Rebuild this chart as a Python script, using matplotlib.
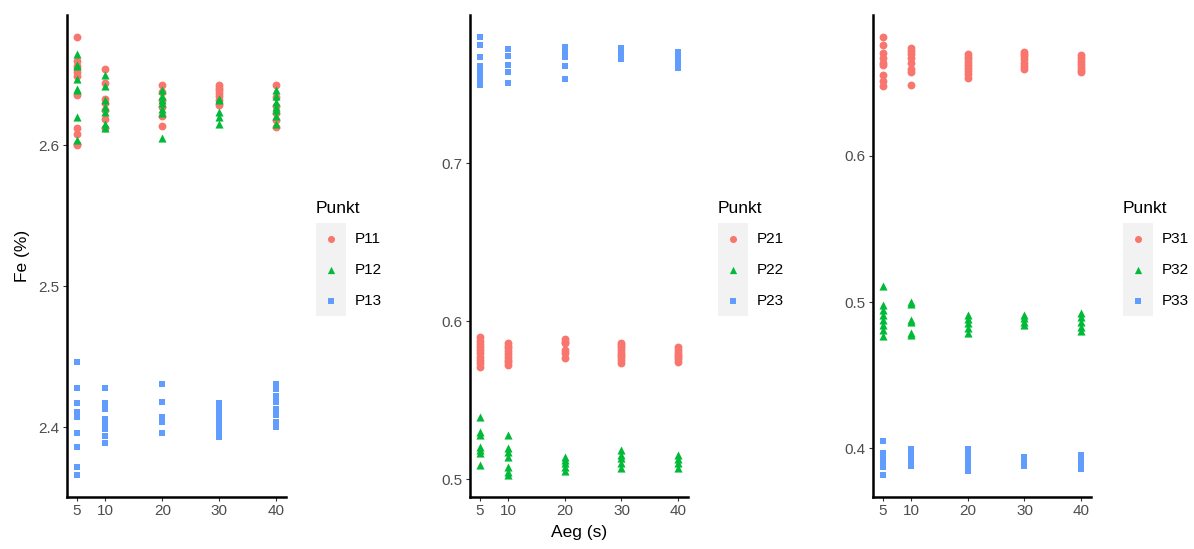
import matplotlib
matplotlib.use("Agg")
import matplotlib.pyplot as plt
from matplotlib.patches import Rectangle

plt.rcParams["font.family"] = ["Liberation Sans", "DejaVu Sans"]

# Sampling times (s)
times = [5, 10, 20, 30, 40]

# Fe (%) per measuring point, one inner list per sampling time
p11 = [[2.677, 2.660, 2.656, 2.652, 2.649, 2.636, 2.612, 2.608, 2.601, 2.600],
       [2.654, 2.644, 2.633, 2.630, 2.625, 2.619, 2.612],
       [2.643, 2.638, 2.632, 2.627, 2.621, 2.614],
       [2.643, 2.641, 2.639, 2.637, 2.635, 2.632, 2.629],
       [2.643, 2.634, 2.628, 2.623, 2.618, 2.613]]
p12 = [[2.665, 2.657, 2.656, 2.647, 2.640, 2.639, 2.620, 2.604],
       [2.650, 2.642, 2.632, 2.627, 2.624, 2.615, 2.612],
       [2.639, 2.635, 2.632, 2.630, 2.626, 2.623, 2.605],
       [2.633, 2.632, 2.624, 2.620, 2.615],
       [2.639, 2.635, 2.631, 2.627, 2.625, 2.621, 2.615]]
p13 = [[2.446, 2.428, 2.417, 2.411, 2.407, 2.396, 2.386, 2.372, 2.366],
       [2.428, 2.417, 2.413, 2.406, 2.402, 2.399, 2.394, 2.389],
       [2.431, 2.418, 2.407, 2.404, 2.396],
       [2.417, 2.413, 2.409, 2.405, 2.401, 2.397, 2.393],
       [2.431, 2.427, 2.422, 2.418, 2.413, 2.409, 2.404, 2.400]]

p21 = [[0.5897, 0.5875, 0.5855, 0.5835, 0.5816, 0.5795, 0.5775, 0.5753, 0.5732, 0.5711],
       [0.5863, 0.5845, 0.5827, 0.5809, 0.5791, 0.5772, 0.5753, 0.5738, 0.5722],
       [0.5884, 0.5870, 0.5859, 0.5816, 0.5800, 0.5764],
       [0.5863, 0.5848, 0.5834, 0.5816, 0.5799, 0.5785, 0.5770, 0.5753, 0.5736],
       [0.5834, 0.5815, 0.5799, 0.5785, 0.5774, 0.5758, 0.5742]]
p22 = [[0.5394, 0.5299, 0.5278, 0.5204, 0.5184, 0.5163, 0.5089],
       [0.5278, 0.5194, 0.5173, 0.5141, 0.5078, 0.5046, 0.5025],
       [0.5141, 0.5120, 0.5099, 0.5078, 0.5053],
       [0.5184, 0.5152, 0.5131, 0.5099, 0.5068],
       [0.5152, 0.5125, 0.5099, 0.5068]]
p23 = [[0.7799, 0.7747, 0.7669, 0.7616, 0.7580, 0.7555, 0.7530, 0.7505, 0.7494],
       [0.7720, 0.7677, 0.7620, 0.7578, 0.7508],
       [0.7736, 0.7698, 0.7669, 0.7614, 0.7530],
       [0.7726, 0.7700, 0.7675, 0.7656],
       [0.7701, 0.7680, 0.7660, 0.7640, 0.7620, 0.7600]]

p31 = [[0.6812, 0.6758, 0.6705, 0.6671, 0.6637, 0.6621, 0.6553, 0.6512, 0.6478],
       [0.6739, 0.6717, 0.6694, 0.6671, 0.6637, 0.6592, 0.6569, 0.6485],
       [0.6694, 0.6677, 0.6660, 0.6640, 0.6621, 0.6600, 0.6580, 0.6557, 0.6534],
       [0.6712, 0.6697, 0.6683, 0.6660, 0.6637, 0.6615, 0.6592],
       [0.6689, 0.6668, 0.6648, 0.6628, 0.6608, 0.6588, 0.6569]]
p32 = [[0.5109, 0.4980, 0.4945, 0.4911, 0.4877, 0.4843, 0.4809, 0.4768],
       [0.5002, 0.4985, 0.4877, 0.4865, 0.4786, 0.4772],
       [0.4911, 0.4882, 0.4854, 0.4820, 0.4786],
       [0.4911, 0.4889, 0.4866, 0.4843],
       [0.4923, 0.4895, 0.4866, 0.4831, 0.4804]]
p33 = [[0.4052, 0.3966, 0.3943, 0.3920, 0.3897, 0.3874, 0.3817],
       [0.3993, 0.3975, 0.3954, 0.3937, 0.3920, 0.3900, 0.3881],
       [0.3993, 0.3975, 0.3954, 0.3937, 0.3920, 0.3900, 0.3881, 0.3863, 0.3845],
       [0.3943, 0.3925, 0.3908, 0.3893, 0.3879],
       [0.3956, 0.3938, 0.3920, 0.3903, 0.3886, 0.3870, 0.3860]]

labels_1 = ["P11", "P12", "P13"]
labels_2 = ["P21", "P22", "P23"]
labels_3 = ["P31", "P32", "P33"]

yticks_1 = [2.4, 2.5, 2.6]
yticks_2 = [0.5, 0.6, 0.7]
yticks_3 = [0.4, 0.5, 0.6]

colors = ["#F8766D", "#00BA38", "#619CFF"]
markers = ["o", "^", "s"]
sizes = [32, 34, 24]

W, H = 1194, 549
fig = plt.figure(figsize=(W / 100, H / 100), dpi=100)


def px_axes(x0, y0, x1, y1):
    return fig.add_axes([x0 / W, 1 - y1 / H, (x1 - x0) / W, (y1 - y0) / H])


panels = [
    ((67, 15, 286, 497), [p11, p12, p13], labels_1, yticks_1, 316),
    ((470, 15, 688, 497), [p21, p22, p23], labels_2, yticks_2, 718),
    ((873, 15, 1091, 497), [p31, p32, p33], labels_3, yticks_3, 1123),
]

axes = []
for box, series, labels, yticks, _ in panels:
    ax = px_axes(*box)
    allv = []
    for vals, c, m, s in zip(series, colors, markers, sizes):
        xs = [t for t, grp in zip(times, vals) for _ in grp]
        ys = [v for grp in vals for v in grp]
        allv += ys
        ax.scatter(xs, ys, s=s, marker=m, color=c, linewidths=0, zorder=3)
    lo, hi = min(allv), max(allv)
    pad = 0.05 * (hi - lo)
    ax.set_ylim(lo - pad, hi + pad)
    xpad = 0.05 * (max(times) - min(times))
    ax.set_xlim(min(times) - xpad, max(times) + xpad)
    ax.set_xticks(times)
    ax.set_yticks(yticks)
    ax.set_yticklabels([f"{v:.1f}" for v in yticks])
    for side in ("top", "right"):
        ax.spines[side].set_visible(False)
    for side in ("left", "bottom"):
        ax.spines[side].set_linewidth(1.8)
        ax.spines[side].set_color("black")
        ax.spines[side].set_capstyle("projecting")
    ax.tick_params(axis="both", length=3.0, width=0.8, color="#333333",
                   labelcolor="#4D4D4D", labelsize=11, pad=2.2)
    ax.set_facecolor("none")
    axes.append(ax)

axes[0].set_ylabel("Fe (%)", fontsize=12.5, color="black", labelpad=6)
axes[1].set_xlabel("Aeg (s)", fontsize=12.5, color="black", labelpad=5)

# Legends drawn in a pixel-space overlay
ov = fig.add_axes([0, 0, 1, 1])
ov.set_xlim(0, W)
ov.set_ylim(H, 0)
ov.axis("off")
for box, series, labels, yticks, lx in panels:
    ov.text(lx, 213, "Punkt", fontsize=12.5, color="black", ha="left", va="baseline")
    ov.add_patch(Rectangle((lx, 223.3), 30, 93, facecolor="#F2F2F2", edgecolor="none"))
    for i, (lab, c, m, s) in enumerate(zip(labels, colors, markers, sizes)):
        cy = 238.8 + 31 * i
        ov.scatter([lx + 15], [cy], s=s * 0.8, marker=m, color=c, linewidths=0)
        ov.text(lx + 39, cy, lab, fontsize=11, color="black", ha="left", va="center")

fig.savefig("out.png", dpi=100, facecolor="white")
